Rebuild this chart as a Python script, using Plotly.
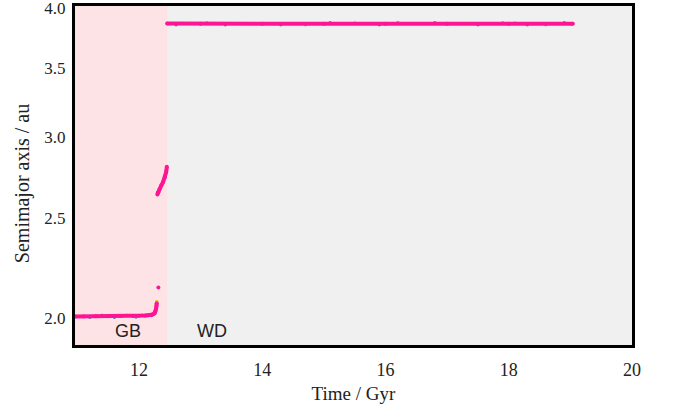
import math
import plotly.graph_objects as go

# Orbital evolution of the planet: semimajor axis (au) against stellar age (Gyr)
# Giant-branch phase (GB), before the envelope loss
gb_time = [10.96, 11.1, 11.3, 11.5, 11.7, 11.9, 12.0, 12.1, 12.15, 12.2,
           12.23, 12.25, 12.265, 12.275, 12.282, 12.287]
gb_axis = [2.008, 2.008, 2.009, 2.009, 2.010, 2.010, 2.011, 2.012, 2.013, 2.015,
           2.018, 2.022, 2.030, 2.042, 2.055, 2.068]

# isolated output sample between the two branches
jump_time = [12.313]
jump_axis = [2.142]

# late giant-branch expansion
agb_time = [12.297, 12.31, 12.33, 12.36, 12.39, 12.42, 12.44, 12.45]
agb_axis = [2.637, 2.650, 2.668, 2.690, 2.712, 2.740, 2.772, 2.806]

# white-dwarf phase (WD): orbit frozen
wd_time = [12.455, 13.0, 14.0, 15.0, 16.0, 17.0, 18.0, 19.04]
wd_axis = [3.862, 3.860, 3.861, 3.860, 3.861, 3.860, 3.861, 3.860]

# companion integrations that sit beneath the main track
blue_time = [11.2, 11.6, 11.95, 12.2, 12.30, 12.42, 12.6, 13.4, 14.3, 15.1,
             15.9, 16.8, 17.5, 18.3, 18.9]
blue_axis = [2.004, 2.005, 2.006, 2.012, 2.648, 2.748, 3.852, 3.853, 3.852, 3.869,
             3.853, 3.869, 3.852, 3.853, 3.869]
green_time = [11.4, 12.05, 12.286, 12.44, 13.1, 14.7, 16.2, 17.9, 18.6]
green_axis = [2.013, 2.015, 2.075, 2.780, 3.870, 3.852, 3.871, 3.870, 3.852]
gold_time = [11.8, 12.287, 12.449, 15.5, 18.1]
gold_axis = [2.014, 2.075, 2.800, 3.870, 3.870]

# stellar phase boundaries
phase_start = 10.96
gb_end = 12.455
time_range = [10.96, 20.0]

# phase labels: (text, time, semimajor axis)
phase_labels = [("GB", 11.82, 1.944), ("WD", 13.18, 1.944)]

PINK = "#ff1493"

fig = go.Figure()

# phase shading
fig.add_shape(type="rect", xref="x", yref="paper", x0=phase_start, x1=gb_end,
              y0=0, y1=1, fillcolor="#fde3e5", line_width=0, layer="below")
fig.add_shape(type="rect", xref="x", yref="paper", x0=gb_end, x1=time_range[1],
              y0=0, y1=1, fillcolor="#f0f0f0", line_width=0, layer="below")

for t, a, c in [(blue_time, blue_axis, "#3b7fe0"),
                (green_time, green_axis, "#6fd44a"),
                (gold_time, gold_axis, "#f0cf1c")]:
    fig.add_trace(go.Scatter(x=t, y=a, mode="markers",
                             marker=dict(color=c, size=3.5), showlegend=False))

for t, a in [(gb_time, gb_axis), (agb_time, agb_axis), (wd_time, wd_axis)]:
    fig.add_trace(go.Scatter(x=t, y=a, mode="lines+markers",
                             line=dict(color=PINK, width=4),
                             marker=dict(color=PINK, size=4), showlegend=False))

fig.add_trace(go.Scatter(x=jump_time, y=jump_axis, mode="markers",
                         marker=dict(color=PINK, size=4), showlegend=False))

serif = "Liberation Serif, Georgia, serif"
sans = "Liberation Sans, Arial, sans-serif"

# annotations on a log axis take log10 positions
for text, t, a in phase_labels:
    fig.add_annotation(x=t, y=math.log10(a), text=text, showarrow=False,
                       font=dict(family=sans, size=18, color="#222222"))

fig.add_annotation(xref="paper", yref="paper", x=-0.093, y=0.475,
                   xanchor="center", yanchor="middle",
                   text="Semimajor axis / au", textangle=-90, showarrow=False,
                   font=dict(family=serif, size=20, color="#222222"))

fig.update_xaxes(range=time_range, tickvals=[12, 14, 16, 18, 20],
                 ticktext=["12", "14", "16", "18", "20"],
                 showgrid=False, zeroline=False, showline=True, linewidth=3,
                 linecolor="black", mirror=True, ticks="outside", ticklen=6,
                 tickcolor="rgba(0,0,0,0)", automargin=False,
                 tickfont=dict(family=serif, size=18, color="#222222"),
                 title=dict(text="Time / Gyr", standoff=9,
                            font=dict(family=serif, size=19, color="#222222")))
fig.update_yaxes(type="log", range=[0.2751, 0.6039],
                 tickvals=[2.0, 2.5, 3.0, 3.5, 4.0],
                 ticktext=["2.0", "2.5", "3.0", "3.5", "4.0"],
                 ticklabeloverflow="allow", automargin=False,
                 showgrid=False, zeroline=False, showline=True, linewidth=3,
                 linecolor="black", mirror=True, ticks="outside", ticklen=3,
                 tickcolor="rgba(0,0,0,0)",
                 tickfont=dict(family=serif, size=17, color="#222222"))

fig.update_layout(width=675, height=412,
                  margin=dict(l=75, r=43, t=6, b=67),
                  paper_bgcolor="white", plot_bgcolor="#f0f0f0",
                  showlegend=False)

fig.write_html("out.html")
